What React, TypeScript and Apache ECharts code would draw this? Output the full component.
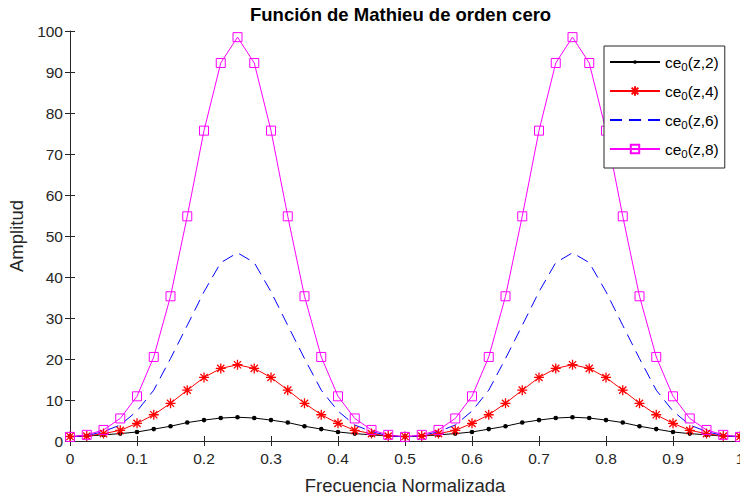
import React, { useEffect, useRef } from "react";
import * as echarts from "echarts";

const X = [0, 0.025, 0.05, 0.075, 0.1, 0.125, 0.15, 0.175, 0.2, 0.225, 0.25, 0.275, 0.3, 0.325, 0.35, 0.375, 0.4, 0.425, 0.45, 0.475, 0.5, 0.525, 0.55, 0.575, 0.6, 0.625, 0.65, 0.675, 0.7, 0.725, 0.75, 0.775, 0.8, 0.825, 0.85, 0.875, 0.9, 0.925, 0.95, 0.975, 1];

const CE2 = [1.1, 1.2, 1.5, 1.8, 2.2, 2.9, 3.6, 4.5, 5.1, 5.6, 5.8, 5.6, 5.1, 4.5, 3.6, 2.9, 2.2, 1.8, 1.5, 1.2, 1.1, 1.2, 1.5, 1.8, 2.2, 2.9, 3.6, 4.5, 5.1, 5.6, 5.8, 5.6, 5.1, 4.5, 3.6, 2.9, 2.2, 1.8, 1.5, 1.2, 1.1];
const CE4 = [1.1, 1.2, 1.8, 2.6, 4.3, 6.4, 9.2, 12.4, 15.5, 17.7, 18.6, 17.7, 15.5, 12.4, 9.2, 6.4, 4.3, 2.6, 1.8, 1.2, 1.1, 1.2, 1.8, 2.6, 4.3, 6.4, 9.2, 12.4, 15.5, 17.7, 18.6, 17.7, 15.5, 12.4, 9.2, 6.4, 4.3, 2.6, 1.8, 1.2, 1.1];
const CE6 = [1.0, 1.3, 2.3, 3.9, 7.3, 12.4, 20.1, 28.2, 36.4, 43.5, 45.9, 43.5, 36.4, 28.2, 20.1, 12.4, 7.3, 3.9, 2.3, 1.3, 1.0, 1.3, 2.3, 3.9, 7.3, 12.4, 20.1, 28.2, 36.4, 43.5, 45.9, 43.5, 36.4, 28.2, 20.1, 12.4, 7.3, 3.9, 2.3, 1.3, 1.0];
const CE8 = [1.0, 1.5, 2.7, 5.5, 10.9, 20.5, 35.3, 54.8, 75.7, 92.2, 98.5, 92.2, 75.7, 54.8, 35.3, 20.5, 10.9, 5.5, 2.7, 1.5, 1.0, 1.5, 2.7, 5.5, 10.9, 20.5, 35.3, 54.8, 75.7, 92.2, 98.5, 92.2, 75.7, 54.8, 35.3, 20.5, 10.9, 5.5, 2.7, 1.5, 1.0];

const NAMES = ["ce0(z,2)", "ce0(z,4)", "ce0(z,6)", "ce0(z,8)"];
const TITLE = "Función de Mathieu de orden cero";
const XLABEL = "Frecuencia Normalizada";
const YLABEL = "Amplitud";

const FONT = "'Liberation Sans', Arial, Helvetica, sans-serif";
const AX = "#262626";

const DOT = "path://M-7,-7M7,7M-2.3,0A2.3,2.3,0,1,1,2.3,0A2.3,2.3,0,1,1,-2.3,0Z";
const STAR = "path://M-6,-6M6,6M0,-5L0,5M-5,0L5,0M-3.6,-3.6L3.6,3.6M-3.6,3.6L3.6,-3.6";
const SQUARE = "path://M-6,-6M6,6M-4.5,-4.5L4.5,-4.5L4.5,4.5L-4.5,4.5Z";

function pairs(ys: number[]) {
  return X.map((x, i) => [x, ys[i]]);
}

export default function App() {
  const ref = useRef<HTMLDivElement>(null);
  useEffect(() => {
    if (!ref.current) return;
    const chart = echarts.init(ref.current, null, { renderer: "svg" });
    const tickFmt = (v: number) => String(Math.round(v * 10) / 10);
    chart.setOption({
      animation: false,
      title: {
        text: TITLE,
        left: 250,
        top: 5,
        padding: 0,
        textStyle: { fontFamily: FONT, fontSize: 18.5, fontWeight: "bold", color: "#000" },
      },
      grid: { left: 70, right: 0, top: 31, bottom: 54, containLabel: false, outerBoundsMode: "none" },
      legend: {
        orient: "vertical",
        left: 604,
        top: 46,
        padding: [8, 6, 8, 5],
        itemWidth: 50,
        itemHeight: 14,
        itemGap: 10,
        backgroundColor: "#fff",
        borderColor: AX,
        borderWidth: 1,
        borderRadius: 0,
        selectedMode: false,
        data: NAMES,
        formatter: (name: string) => {
          const rest = name.slice(3);
          return "{m|ce}{s|0}{m|" + rest + "}";
        },
        textStyle: {
          fontFamily: FONT,
          color: "#000",
          rich: {
            m: { fontFamily: FONT, fontSize: 15.5, color: "#000", lineHeight: 22, verticalAlign: "middle" },
            s: { fontFamily: FONT, fontSize: 11.5, color: "#000", lineHeight: 11, verticalAlign: "bottom" },
          },
        },
      },
      xAxis: [
        {
          type: "value",
          min: 0,
          max: 1,
          interval: 0.1,
          name: XLABEL,
          nameLocation: "middle",
          nameGap: 35,
          nameTextStyle: { fontFamily: FONT, fontSize: 18.5, color: AX },
          axisLine: { show: true, lineStyle: { color: AX, width: 1 } },
          axisTick: { show: true, inside: true, length: 5, lineStyle: { color: AX } },
          axisLabel: { fontFamily: FONT, fontSize: 15.5, color: AX, margin: 9, formatter: tickFmt },
          splitLine: { show: false },
        },
        {
          type: "value",
          position: "top",
          min: 0,
          max: 1,
          interval: 0.1,
          axisLine: { show: true, lineStyle: { color: AX, width: 1 } },
          axisTick: { show: true, inside: true, length: 5, lineStyle: { color: AX } },
          axisLabel: { show: false },
          splitLine: { show: false },
        },
      ],
      yAxis: [
        {
          type: "value",
          min: 0,
          max: 100,
          interval: 10,
          name: YLABEL,
          nameLocation: "middle",
          nameGap: 42,
          nameTextStyle: { fontFamily: FONT, fontSize: 18.5, color: AX },
          axisLine: { show: true, lineStyle: { color: AX, width: 1 } },
          axisTick: { show: true, inside: true, length: 5, lineStyle: { color: AX } },
          axisLabel: { fontFamily: FONT, fontSize: 15.5, color: AX, margin: 7 },
          splitLine: { show: false },
        },
        {
          type: "value",
          position: "right",
          min: 0,
          max: 100,
          interval: 10,
          axisLine: { show: false },
          axisTick: { show: true, inside: true, length: 5, lineStyle: { color: AX } },
          axisLabel: { show: false },
          splitLine: { show: false },
        },
      ],
      series: [
        {
          name: NAMES[0],
          type: "line",
          data: pairs(CE2),
          symbol: DOT,
          symbolSize: 14,
          showSymbol: true,
          lineStyle: { color: "#000", width: 1 },
          itemStyle: { color: "#000" },
          emphasis: { disabled: true },
        },
        {
          name: NAMES[1],
          type: "line",
          data: pairs(CE4),
          symbol: STAR,
          symbolSize: 12,
          lineStyle: { color: "#ff0000", width: 1 },
          itemStyle: { color: "#ff0000", borderColor: "#ff0000", borderWidth: 1.3 },
          emphasis: { disabled: true },
        },
        {
          name: NAMES[2],
          type: "line",
          data: pairs(CE6),
          symbol: "none",
          lineStyle: { color: "#0000ff", width: 1, type: [12, 7] },
          itemStyle: { color: "transparent" },
          emphasis: { disabled: true },
        },
        {
          name: NAMES[3],
          type: "line",
          data: pairs(CE8),
          symbol: SQUARE,
          symbolSize: 12,
          lineStyle: { color: "#ff00ff", width: 1 },
          itemStyle: { color: "transparent", borderColor: "#ff00ff", borderWidth: 1 },
          emphasis: { disabled: true },
        },
      ],
    });
    return () => chart.dispose();
  }, []);
  return (
    <div
      ref={ref}
      style={{ position: "fixed", left: 0, top: 0, width: 740, height: 495, background: "#fff" }}
    />
  );
}
